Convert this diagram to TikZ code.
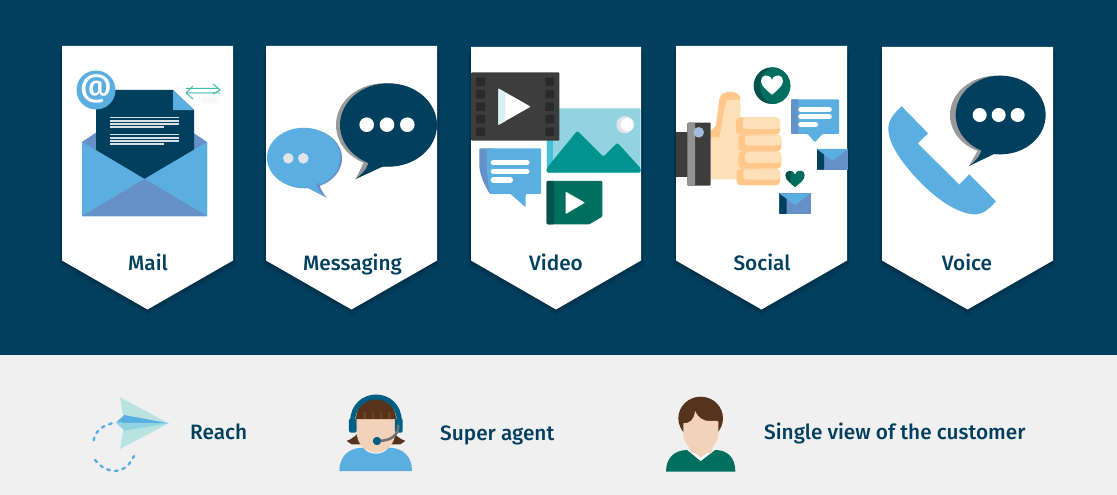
\documentclass[tikz,border=0pt]{standalone}
\usepackage{fontspec}
\setmainfont{Fira Sans}[UprightFont=* Medium]
\definecolor{navy}{HTML}{003F5E}
\definecolor{sky}{HTML}{5BAEE0}
\definecolor{steel}{HTML}{6690C8}
\definecolor{panel}{HTML}{F0F0F0}
\definecolor{film}{HTML}{3D3D3D}
\definecolor{hole}{HTML}{2A2A2A}
\definecolor{aqua}{HTML}{92D3E0}
\definecolor{aquaD}{HTML}{48BFD8}
\definecolor{seaT}{HTML}{009490}
\definecolor{green}{HTML}{006F60}
\definecolor{dgreen}{HTML}{00524A}
\definecolor{skinA}{HTML}{FDE0B8}
\definecolor{skinB}{HTML}{FFC78A}
\definecolor{face}{HTML}{F2D2B8}
\definecolor{hair}{HTML}{56331A}
\definecolor{hairB}{HTML}{6E4220}
\definecolor{band}{HTML}{005F85}
\definecolor{tealA}{HTML}{3FBDB0}
\definecolor{wing}{HTML}{B9E3E0}
\definecolor{dotgray}{HTML}{E1E4E8}
\tikzset{
  x=1pt,y=-1pt,
  label text/.style={text=navy,font=\fontsize{20.8}{24}\selectfont,inner sep=0pt,anchor=base},
}
\newcommand{\pennant}[3]{% left, right, top
  \pgfmathsetmacro{\midx}{(#1+#2)/2}
  \foreach \k/\o in {6/0.05,4/0.07,2/0.09}{
    \fill[black,opacity=\o] (#1-\k*0.5,#3+\k) -- (#2+\k*0.5,#3+\k) -- (#2+\k*0.5,260+\k) -- (\midx,309.5+\k) -- (#1-\k*0.5,260+\k) -- cycle;
  }
  \fill[white] (#1,#3) -- (#2,#3) -- (#2,260.5) -- (\midx,309.5) -- (#1,260.5) -- cycle;
}
% unit heart about the origin, width 2
\newcommand{\heartpath}{(0,1) .. controls (-0.5,0.55) and (-1,0.2) .. (-1,-0.3) .. controls (-1,-0.9) and (-0.25,-1) .. (0,-0.4) .. controls (0.25,-1) and (1,-0.9) .. (1,-0.3) .. controls (1,0.2) and (0.5,0.55) .. (0,1) -- cycle}
% envelope in zoomed units: left, top, width, height
\newcommand{\envelope}[4]{
  \fill[steel] (#1,#2) rectangle (#1+#3,#2+#4);
  \fill[navy] (#1,#2) -- (#1+0.23*#3,#2+0.26*#4) -- (#1+0.23*#3,#2+#4) -- (#1,#2+#4) -- cycle;
  \fill[sky] (#1,#2) -- (#1+#3,#2) -- (#1+0.5*#3,#2+0.57*#4) -- cycle;
}
\begin{document}
\begin{tikzpicture}
\useasboundingbox (0,0) rectangle (1117,495);
\fill[navy] (0,0) rectangle (1117,355);
\fill[panel] (0,355) rectangle (1117,495);
\pennant{62}{233}{46}
\pennant{266}{437}{46}
\pennant{471}{641}{47}
\pennant{676}{847}{46}
\pennant{882}{1053}{47}
\node[label text] (lmail) at (148,270) {Mail};
\node[label text] (lmsg) at (352.5,270) {Messaging};
\node[label text] (lvideo) at (556,270) {Video};
\node[label text] (lsocial) at (762,270) {Social};
\node[label text] (lvoice) at (967,270) {Voice};
\node[label text,anchor=base west] (lreach) at (190,439) {Reach};
\node[label text,anchor=base west] (lagent) at (440,440) {Super agent};
\node[label text,anchor=base west] (lview) at (764,439) {Single view of the customer};

% ---- Mail
\fill[steel] (82,142) -- (144.5,100) -- (207,142) -- (207,216) -- (82,216) -- cycle;
\fill[navy] (96,90) -- (173,90) -- (194,110) -- (194,150) -- (144.5,179) -- (96,150) -- cycle;
\fill[sky] (173,90) -- (194,110) -- (173,110) -- cycle;
\fill[sky] (82,142) -- (144.5,179) -- (207,142) -- (207,216) -- (82,216) -- cycle;
\fill[steel] (82,216) -- (144.5,179) -- (207,216) -- cycle;
\foreach \yy in {117.5,120.8,124.1,127.2,134.5,137.8,141.1,144.2}{ \draw[white!85!navy,line width=1.7pt] (110,\yy) -- (179,\yy); }
\fill[navy] (163.5,126) rectangle (180,129);
\fill[navy] (163.5,143) rectangle (180,146);
\fill[sky] (96,90) circle (19.5);
\node[text=white,inner sep=0pt,font=\fontsize{31}{31}\selectfont] (at) at (96,89) {@};
\fill[black,opacity=0.015] (198,96) rectangle (220,104);
\fill[black,opacity=0.015] (202,97) rectangle (217,102);
\draw[tealA,line width=1pt] (186,93) -- (220,93) (193,86) -- (186,93) -- (193,99);
\draw[tealA,line width=1pt] (186,88.5) -- (219,88.5) (213,84) -- (220,90) -- (213,94);

% ---- Messaging
\fill[gray!80] (384,125) ellipse (48 and 41.7);
\fill[gray!80] (366,158) -- (355.7,179) -- (382,166) -- cycle;
\fill[navy] (388.5,125) ellipse (48.5 and 41.7);
\fill[navy] (369,158) .. controls (369,168) and (362,174) .. (355.7,179) -- (384,166) -- cycle;
\foreach \xx in {366.7,387,407.3}{ \fill[white] (\xx,124.7) circle (7.3); }
\fill[steel] (305,158.3) ellipse (37 and 30);
\fill[sky] (303.5,157.8) ellipse (36.5 and 30);
\fill[steel] (306,187) -- (326.7,197.7) .. controls (322,192) and (320,188) .. (319,183) -- cycle;
\fill[sky] (306,187) -- (324,196) .. controls (319,192) and (317,188) .. (316,183) -- cycle;
\foreach \xx in {288.3,303.3}{ \fill[dotgray] (\xx,158.3) circle (5.3); }

% ---- Video and Social (coordinates in 3x zoom of the crop at 460,40)
\begin{scope}[shift={(460,40)},scale=0.33333]
  % image
  \fill[aqua,rounded corners=1pt] (260,205) rectangle (542,398);
  \fill[aquaD] (260,205) rectangle (279,385);
  \fill[dotgray] (495,254) circle (26);
  \fill[white] (502,254) circle (20);
  \fill[seaT,rounded corners=1.5pt] (260,385) -- (352,272) -- (430,350) -- (472,308) -- (542,385) -- (542,398) -- (260,398) -- cycle;
  % film
  \fill[film,rounded corners=1pt] (33,97) rectangle (298,302);
  \foreach \yy in {112,150,187,224,262}{
    \fill[hole,rounded corners=0.7pt] (48,\yy) rectangle (75,\yy+26);
    \fill[hole,rounded corners=0.7pt] (256,\yy) rectangle (282,\yy+26);
  }
  \fill[white,rounded corners=0.7pt] (115,145) -- (212,200) -- (115,255) -- cycle;
  \fill[aqua!35] (115,146) -- (135,157) -- (135,244) -- (115,255) -- cycle;
  % chat
  \fill[steel,rounded corners=1pt] (90,462) .. controls (70,430) and (58,400) .. (58,370) -- (58,325) -- (100,325) -- (100,462) -- cycle;
  \fill[sky,rounded corners=1pt] (80,325) -- (243,325) -- (243,462) -- (197,462) -- (197,502) -- (152,462) -- (90,462) .. controls (85,430) and (80,400) .. (80,370) -- cycle;
  \draw[white,line width=5.3pt,line cap=round] (100,368) -- (201,368) (100,394) -- (201,394) (100,420) -- (151,420);
  % green video
  \fill[green,rounded corners=1pt] (260,423) -- (427,423) -- (427,530) -- (388,553) -- (260,553) -- cycle;
  \fill[dgreen,rounded corners=1pt] (260,423) rectangle (282,553);
  \fill[white,rounded corners=0.7pt] (317,455) -- (375,488) -- (317,522) -- cycle;

  % hand
  \fill[film] (647,276) rectangle (690,410);
  \fill[skinA] (752,272) -- (768,258) -- (780,175) .. controls (782,150) and (840,150) .. (841,175) -- (841,240) -- (900,240) -- (900,418) -- (752,418) -- cycle;
  \fill[skinB] (752,292) -- (778,292) .. controls (786,250) and (790,210) .. (800,180) -- (841,178) .. controls (841,148) and (782,148) .. (778,178) -- (768,258) -- (752,272) -- cycle;
  \foreach \xa/\xb/\ya/\yb in {828/960/232/284,835/964/284/334,835/964/334/386,830/960/386/436}{
    \fill[skinB,rounded corners=4pt] (\xa,\ya) rectangle (\xb,\yb);
    \fill[skinA,rounded corners=3pt] (\xa+20,\ya+2) rectangle (\xb,\yb-17);
  }
  \fill[film,rounded corners=1pt] (682,248) rectangle (752,437);
  \fill[gray!85,rounded corners=1pt] (682,248) rectangle (705,437);
  \fill[steel!60] (716,277) circle (16);
  % big heart
  \fill[dgreen] (936,137) circle (55);
  \begin{scope}
    \clip (936,137) circle (55);
    \fill[green] (960,137) circle (60);
  \end{scope}
  \begin{scope}[shift={(936,132)},xscale=33,yscale=32]
    \fill[white] \heartpath;
  \end{scope}
  % small heart
  \begin{scope}[shift={(1005,414)},xscale=29,yscale=27]
    \fill[dgreen] \heartpath;
    \clip \heartpath;
    \fill[green] (-0.45,-1) rectangle (1,1);
  \end{scope}
  % chat
  \fill[sky,rounded corners=1pt] (993,178) -- (1137,178) -- (1137,282) -- (1087,282) -- (1065,307) -- (1043,282) -- (993,282) -- cycle;
  \fill[steel,rounded corners=1pt] (993,178) -- (1015,178) -- (1015,282) -- (993,282) -- cycle;
  \draw[white,line width=5pt,line cap=round] (1022,208) -- (1108,208) (1022,230) -- (1108,230) (1022,253) -- (1067,253);
  \envelope{1071}{327}{93}{62}
  \envelope{958}{460}{94}{62}
\end{scope}

% ---- Voice (3x zoom of the crop at 870,40)
\begin{scope}[shift={(870,40)},scale=0.33333]
  \fill[sky] (95,199) -- (174,280) -- (143,310) -- (268,434) -- (298,403) -- (378,484)
    .. controls (355,510) and (335,525) .. (310,523)
    .. controls (250,518) and (180,460) .. (135,410)
    .. controls (90,360) and (55,310) .. (55,265)
    .. controls (55,240) and (72,220) .. (95,199) -- cycle;
  \fill[gray!80] (379,225) ellipse (139 and 118);
  \fill[gray!80] (330,320) -- (297,378) -- (368,342) -- cycle;
  \fill[navy] (392,225) ellipse (135 and 118);
  \fill[navy] (336,325) .. controls (332,345) and (320,362) .. (297,378) -- (372,342) -- cycle;
  \foreach \xx in {329,386,443}{ \fill[white] (\xx,225) circle (21); }
\end{scope}

% ---- Reach (3x zoom of the crop at 70,385)
\begin{scope}[shift={(70,385)},scale=0.33333]
  \fill[wing] (150,37) -- (296,115) -- (150,192) -- (163,115) -- cycle;
  \fill[sky] (138,113) -- (163,90) -- (296,115) -- cycle;
  \fill[aqua] (138,113) -- (296,115) -- (163,137) -- cycle;
  \draw[sky,line width=2.4pt,line cap=round,dash pattern=on 2.8pt off 5pt] plot[smooth] coordinates {(125,115) (95,128) (77,148) (70,170)};
  \draw[sky,line width=2.4pt,line cap=round,dash pattern=on 2.8pt off 5pt] plot[smooth] coordinates {(75,225) (100,248) (135,258) (170,245) (192,213)};
\end{scope}

% ---- Super agent (same crop)
\begin{scope}[shift={(70,385)},scale=0.33333]
  \fill[hair] (830,168) .. controls (850,160) and (860,150) .. (866,140) -- (880,178) -- (845,178) -- cycle;
  \fill[hair] (1006,168) .. controls (986,160) and (976,150) .. (970,140) -- (956,178) -- (991,178) -- cycle;
  \fill[sky] (808,258) .. controls (808,215) and (835,188) .. (880,188) -- (955,188) .. controls (1000,188) and (1026,215) .. (1026,258) -- cycle;
  \fill[white!93!sky] (880,188) .. controls (895,212) and (940,212) .. (955,188) -- cycle;
  \fill[face] (860,90) -- (976,90) -- (976,140) .. controls (976,180) and (945,203) .. (918,203) .. controls (890,203) and (860,180) .. (860,140) -- cycle;
  \fill[hair] (858,102) .. controls (858,65) and (885,42) .. (918,42) .. controls (950,42) and (978,65) .. (978,102) -- cycle;
  \foreach \xx in {880,905,930,955}{ \fill[hairB] (\xx,82) rectangle (\xx+7,102); }
  \draw[band,line width=5pt] (848,110) .. controls (848,60) and (885,36) .. (918,36) .. controls (952,36) and (988,60) .. (988,110);
  \fill[band,rounded corners=1.5pt] (837,100) rectangle (860,143);
  \fill[band,rounded corners=1.5pt] (975,100) rectangle (998,143);
  \draw[gray!90!black,line width=2.6pt,line cap=round] (985,122) .. controls (985,150) and (965,167) .. (925,168);
  \fill[band] (921,168) circle (12.5);
\end{scope}

% ---- Customer (3x zoom of the crop at 650,385)
\begin{scope}[shift={(650,385)},scale=0.33333]
  \fill[green] (48,260) .. controls (48,220) and (72,195) .. (112,195) -- (195,195) .. controls (235,195) and (256,220) .. (256,260) -- cycle;
  \fill[white] (112,195) -- (152,228) -- (195,195) -- cycle;
  \fill[hair] (152,100) ellipse (67 and 65);
  \fill[face] (120,150) rectangle (185,205);
  \fill[face] (130,200) -- (152,218) -- (175,200) -- cycle;
  \fill[face] (100,115) .. controls (120,115) and (132,105) .. (135,78) .. controls (142,95) and (160,110) .. (180,108) .. controls (190,110) and (200,105) .. (205,110) -- (205,155) .. controls (195,185) and (175,207) .. (152,207) .. controls (130,207) and (110,185) .. (100,155) -- cycle;
\end{scope}
\end{tikzpicture}
\end{document}
